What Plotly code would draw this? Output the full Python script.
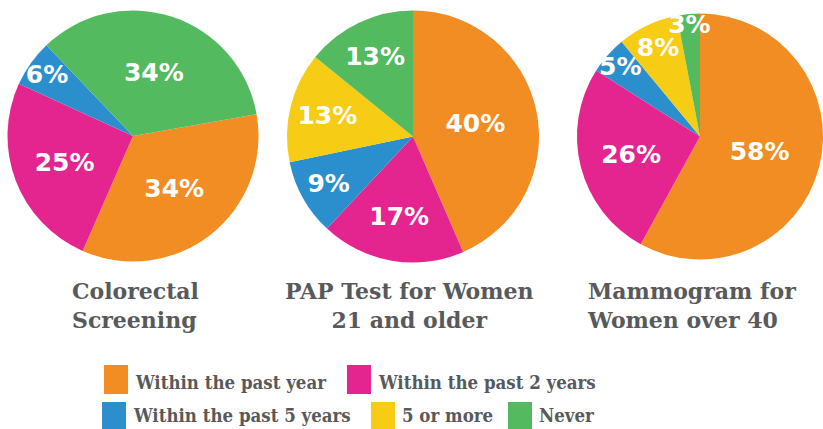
import plotly.graph_objects as go

# ---------------- data ----------------
categories = ["Within the past year", "Within the past 2 years",
              "Within the past 5 years", "5 or more", "Never"]
colors = ["#F18D22", "#E4258F", "#2C8FCD", "#F6CC14", "#53BA60"]

colorectal = [34, 25, 6, None, 34]
pap_test = [40, 17, 9, 13, 13]
mammogram = [58, 26, 5, 8, 3]

title_colorectal = ["Colorectal", "Screening"]
title_pap = ["PAP Test for Women", "21 and older"]
title_mammo = ["Mammogram for", "Women over 40"]

# ---------------- layout helpers ----------------
W, H = 823, 429


def fx(x):
    return x / W


def fy(y):
    return 1 - y / H


PCT_FONT = dict(family="'DejaVu Sans', sans-serif", size=25, color="white", weight="bold")
TITLE_FONT = dict(family="'DejaVu Serif', serif", size=22,
                  color="#58595B", weight="bold")
LEG_FONT = dict(family="'DejaVu Serif Condensed', 'DejaVu Serif', serif", size=18.5,
                color="#58595B", weight="bold")

fig = go.Figure()


def add_pie(values, rotation, cx, cy, r):
    labs, vals, cols = [], [], []
    for c, v, col in zip(categories, values, colors):
        if v is None:
            continue
        labs.append(c)
        vals.append(v)
        cols.append(col)
    fig.add_trace(go.Pie(
        labels=labs, values=vals, text=[f"{v}%" for v in vals],
        textinfo="text", textposition="inside", insidetextorientation="horizontal",
        sort=False, direction="clockwise", rotation=rotation,
        marker=dict(colors=cols, line=dict(width=0)),
        textfont=PCT_FONT, hoverinfo="label+value", showlegend=False,
        domain=dict(x=[max(0, fx(cx - r)), min(1, fx(cx + r))],
                    y=[max(0, fy(cy + r)), min(1, fy(cy - r))]),
    ))


add_pie(colorectal, 80, 133, 136, 125.5)
add_pie(pap_test, 0, 413, 136.5, 126)
add_pie(mammogram, 0, 700, 136.5, 123)

annotations = []


def title(lines, x, anchor):
    annotations.append(dict(text="<br>".join(lines), x=fx(x), y=fy(305), xref="paper", yref="paper",
                            xanchor=anchor, yanchor="middle", align=anchor if anchor != "center" else "center",
                            showarrow=False, font=TITLE_FONT))


title(title_colorectal, 70, "left")
title(title_pap, 409, "center")
title(title_mammo, 585, "left")

# legend (drawn manually, two rows)
legend_pos = [(104, 365), (347, 365), (102, 402), (371, 402), (508, 402)]
legend_text_dy = [17, 17, 13, 13, 13]
shapes = []
for cat, col, (lx, ly), dy in zip(categories, colors, legend_pos, legend_text_dy):
    shapes.append(dict(type="rect", xref="paper", yref="paper",
                       x0=fx(lx), x1=fx(lx + 24), y0=fy(ly + 29), y1=fy(ly),
                       fillcolor=col, line=dict(width=0)))
    annotations.append(dict(text=cat, x=fx(lx + 29), y=fy(ly + dy), xref="paper", yref="paper",
                            xanchor="left", yanchor="middle", showarrow=False, font=LEG_FONT))

fig.update_layout(
    width=W, height=H, margin=dict(l=0, r=0, t=0, b=0),
    paper_bgcolor="white", plot_bgcolor="white",
    annotations=annotations, shapes=shapes,
    uniformtext=dict(minsize=25, mode="show"),
)

fig.write_html("out.html", config={"displayModeBar": False},
               post_script="document.body.style.margin='0';document.body.style.overflow='hidden';")
